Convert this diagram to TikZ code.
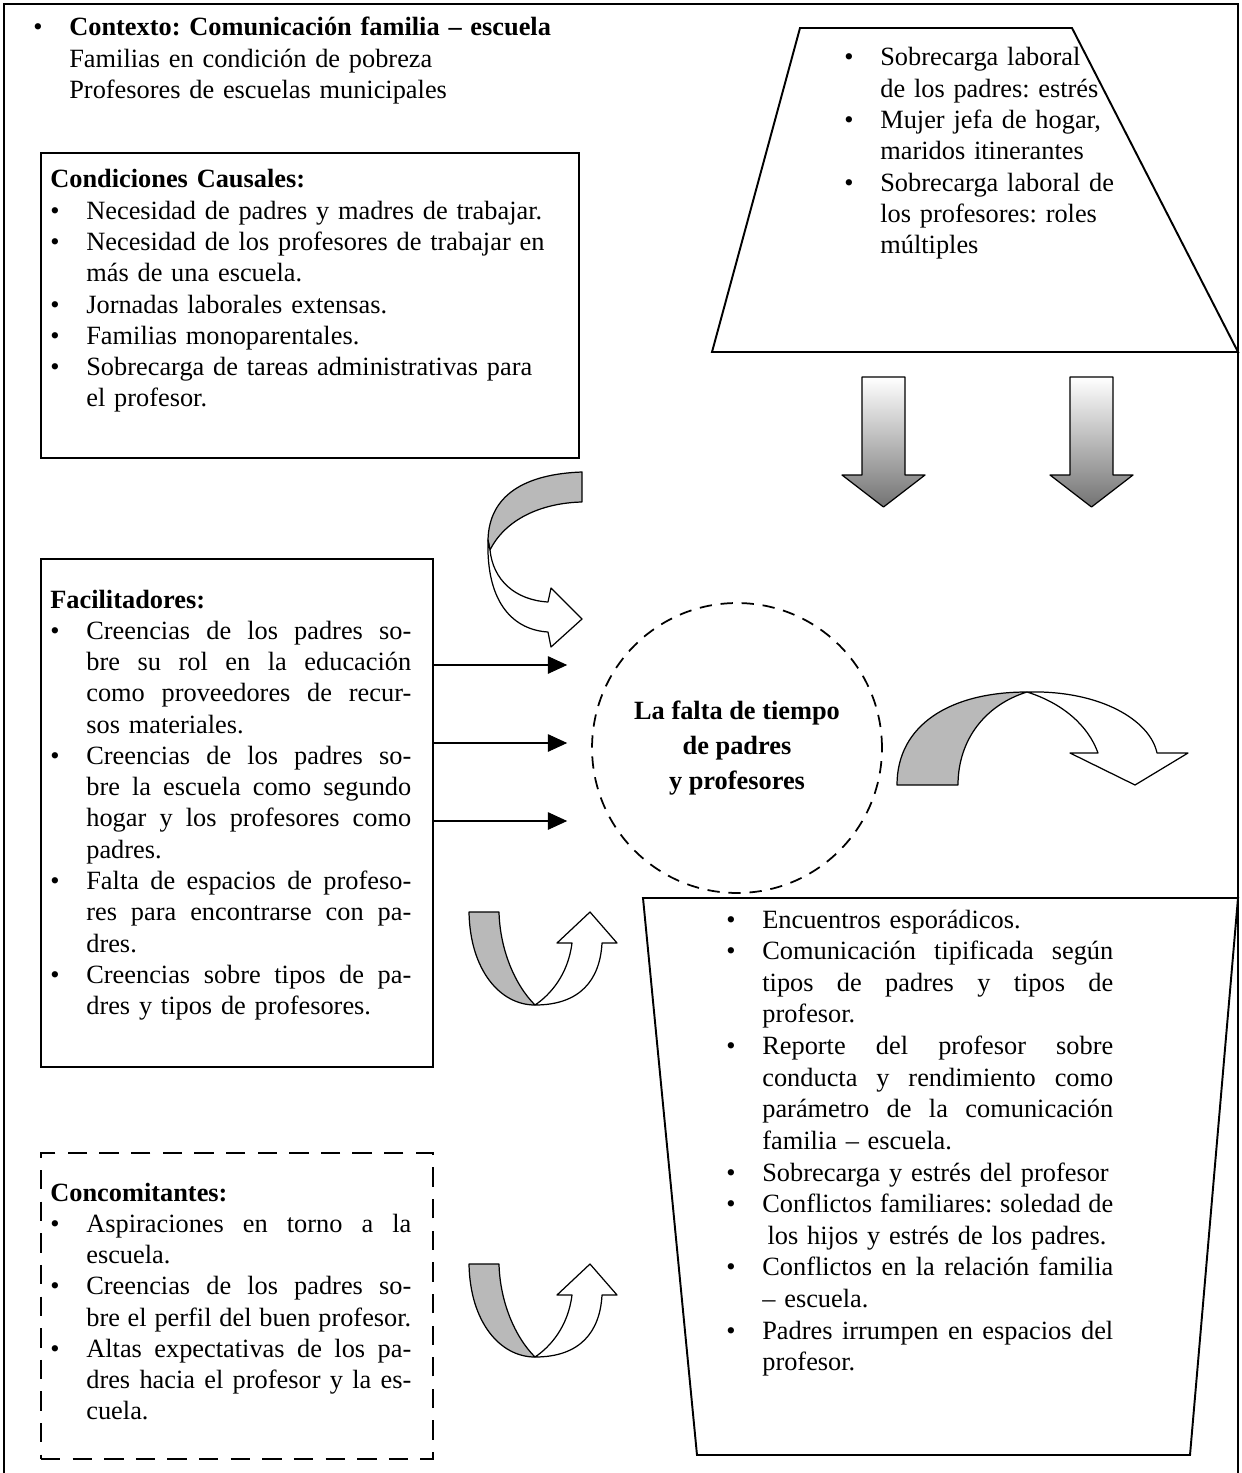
\documentclass[tikz,border=0pt]{standalone}
\usepackage{fontspec}
\setmainfont{Liberation Serif}
\usetikzlibrary{arrows.meta}

\newcommand{\bul}{\makebox[0.72cm][l]{\textbullet}}
\newcommand{\ind}{\hspace*{0.72cm}}
\newcommand{\jl}[1]{\hbox to \dimexpr\linewidth-0.72cm\relax{\spaceskip=0.25em plus 1fil\relax #1}}

\tikzset{
  box/.style={draw, line width=1.1pt, anchor=north west, inner sep=0pt},
  dashbox/.style={box, dash pattern=on 11pt off 7pt},
  txt/.style={anchor=base west, inner sep=0pt, align=left, text width=#1},
  trap/.style={draw, line width=1.1pt, line join=miter},
  arr/.style={-{Triangle[length=11pt,width=10pt]}, line width=0.6pt},
  band/.style={line width=0.7pt, line join=round},
  uarrow/.pic={
    \filldraw[band, fill=gray!55] (0,0) .. controls (1,58) and (31,93) .. (66,93) .. controls (46,73) and (31,38) .. (30,0) -- cycle;
    \filldraw[band, fill=white] (66,93) .. controls (111,93) and (131,68) .. (133,31) -- (148,31) -- (121,0) -- (88,31) -- (103,31) .. controls (99,63) and (81,83) .. (66,93) -- cycle;
  },
  darrow/.pic={
    \shadedraw[band, top color=white, bottom color=black!55] (0,0) -- (43,0) -- (43,98) -- (63,98) -- (21.5,130) -- (-20,98) -- (0,98) -- cycle;
  }
}

\begin{document}
\frenchspacing
\begin{tikzpicture}[x=0.02cm, y=-0.02cm, font=\fontsize{15}{17.8}\selectfont]
  \useasboundingbox (0,0) rectangle (1241,1473);

  % outer frame
  \draw[line width=1.2pt] (4,1473) -- (4,4) -- (1238,4) -- (1238,1473);

  % context
  \node[txt=11cm] (ctx) at (33,36) {\bul\textbf{Contexto: Comunicación familia – escuela}\\
    \ind Familias en condición de pobreza\\
    \ind Profesores de escuelas municipales};

  % causal conditions
  \node[box, minimum width=10.76cm, minimum height=6.1cm] (causal) at (40,152) {};
  \node[txt=10.5cm] (causaltxt) at (50,188) {\textbf{Condiciones Causales:}\\
    \bul Necesidad de padres y madres de trabajar.\\
    \bul Necesidad de los profesores de trabajar en\\
    \ind más de una escuela.\\
    \bul Jornadas laborales extensas.\\
    \bul Familias monoparentales.\\
    \bul Sobrecarga de tareas administrativas para\\
    \ind el profesor.};

  % context trapezium (top right)
  \coordinate (t1) at (800,28);
  \coordinate (t2) at (1072,28);
  \coordinate (t3) at (1238,352);
  \coordinate (t4) at (712,352);
  \draw[trap] (t1) -- (t2) -- (t3) -- (t4) -- cycle;
  \node[txt=6.5cm] (ctxtxt) at (844,66) {\bul Sobrecarga laboral\\
    \ind de los padres: estrés\\
    \bul Mujer jefa de hogar,\\
    \ind maridos itinerantes\\
    \bul Sobrecarga laboral de\\
    \ind los profesores: roles\\
    \ind múltiples};

  % block arrows
  \pic at (862,377) {darrow};
  \pic at (1070,377) {darrow};

  % curved arrow towards the centre
  \filldraw[band, fill=gray!55] (582,472) .. controls (525,474) and (489,495) .. (488,540) -- (490,550) .. controls (505,520) and (540,503) .. (582,502) -- cycle;
  \filldraw[band, fill=white] (488,540) .. controls (486,605) and (515,630) .. (548,632) -- (551,647) -- (582,619) -- (551,588) -- (548,602) .. controls (515,600) and (493,580) .. (490,550) -- cycle;

  % central phenomenon
  \node[circle, draw, line width=1pt, dash pattern=on 7pt off 5pt, minimum size=5.8cm, inner sep=0pt,
        align=center, font=\bfseries\fontsize{15}{20}\selectfont] (falta) at (737,748)
        {La falta de tiempo\\de padres\\y profesores};

  % arch arrow to consequences
  \filldraw[band, fill=gray!55] (897,785) .. controls (897,725) and (950,692) .. (1027,692) .. controls (985,705) and (958,740) .. (958,785) -- cycle;
  \filldraw[band, fill=white] (1027,692) .. controls (1100,690) and (1150,720) .. (1157,753) -- (1188,753) -- (1135,785) -- (1070,753) -- (1098,753) .. controls (1088,725) and (1062,703) .. (1027,692) -- cycle;

  % facilitators
  \node[box, minimum width=7.84cm, minimum height=10.16cm] (fac) at (40,558) {};
  \node[txt=7.22cm] (factxt) at (50,608) {\textbf{Facilitadores:}\\
    \bul\jl{Creencias de los padres so-}\\
    \ind\jl{bre su rol en la educación}\\
    \ind\jl{como proveedores de recur-}\\
    \ind sos materiales.\\
    \bul\jl{Creencias de los padres so-}\\
    \ind\jl{bre la escuela como segundo}\\
    \ind\jl{hogar y los profesores como}\\
    \ind padres.\\
    \bul\jl{Falta de espacios de profeso-}\\
    \ind\jl{res para encontrarse con pa-}\\
    \ind dres.\\
    \bul\jl{Creencias sobre tipos de pa-}\\
    \ind dres y tipos de profesores.};

  \foreach \y in {665,743,821}
    \draw[arr, shorten >=0.48cm] (fac.east |- 0,\y) -- (falta.west |- 0,\y);

  % U arrows
  \pic at (469,912) {uarrow};
  \pic at (469,1264) {uarrow};

  % concomitants
  \node[dashbox, minimum width=7.84cm, minimum height=6.12cm] (conc) at (40,1152) {};
  \node[txt=7.22cm] (conctxt) at (50,1201) {\textbf{Concomitantes:}\\
    \bul\jl{Aspiraciones en torno a la}\\
    \ind escuela.\\
    \bul\jl{Creencias de los padres so-}\\
    \ind\jl{bre el perfil del buen profesor.}\\
    \bul\jl{Altas expectativas de los pa-}\\
    \ind\jl{dres hacia el profesor y la es-}\\
    \ind cuela.};

  % consequences trapezium
  \coordinate (c1) at (643,898);
  \coordinate (c2) at (1238,898);
  \coordinate (c3) at (1190,1455);
  \coordinate (c4) at (697,1455);
  \draw[trap] (c1) -- (c2) -- (c3) -- (c4) -- cycle;
  \node[txt=7.74cm, font=\fontsize{15}{18}\selectfont] (constxt) at (726,928) {\bul Encuentros esporádicos.\\
    \bul\jl{Comunicación tipificada según}\\
    \ind\jl{tipos de padres y tipos de}\\
    \ind profesor.\\
    \bul\jl{Reporte del profesor sobre}\\
    \ind\jl{conducta y rendimiento como}\\
    \ind\jl{parámetro de la comunicación}\\
    \ind familia – escuela.\\
    \bul Sobrecarga y estrés del profesor\\
    \bul\jl{Conflictos familiares: soledad de}\\
    \ind\hspace{0.2em}los hijos y estrés de los padres.\\
    \bul\jl{Conflictos en la relación familia}\\
    \ind – escuela.\\
    \bul\jl{Padres irrumpen en espacios del}\\
    \ind profesor.};
\end{tikzpicture}
\end{document}
